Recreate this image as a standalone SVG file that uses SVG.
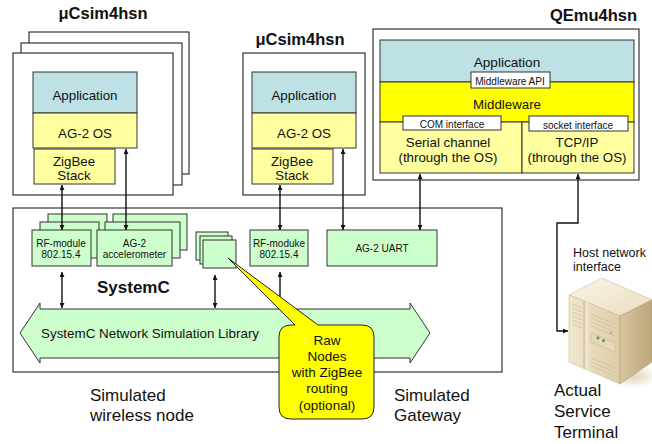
<svg xmlns="http://www.w3.org/2000/svg" width="652" height="444" viewBox="0 0 652 444">
  <style>
    text { font-family: "Liberation Sans", Arial, sans-serif; fill: #111; }
    .title { font-size: 16.5px; font-weight: bold; }
    .frame { fill: #fff; stroke: #222; stroke-width: 1.1; }
    .app { fill: #bde1e4; stroke: #333; stroke-width: 1; }
    .os { fill: #ffffa0; stroke: #333; stroke-width: 1; }
    .mw { fill: #ffff00; stroke: #333; stroke-width: 1; }
    .iface { fill: #fff; stroke: #333; stroke-width: 1; }
    .mod { fill: #ccffcc; stroke: #333; stroke-width: 1; }
    .t13 { font-size: 13.3px; text-anchor: middle; }
    .t10 { font-size: 10px; text-anchor: middle; }
    .big { font-size: 17px; }
    .conn line, .conn polyline { stroke: #111; stroke-width: 1.4; fill: none; }
  </style>
  <defs>
    <marker id="ah" viewBox="0 0 6 6" refX="6" refY="3" markerWidth="5" markerHeight="5" orient="auto-start-reverse" markerUnits="userSpaceOnUse">
      <path d="M0,0 L6,3 L0,6 z" fill="#111"/>
    </marker>
    <linearGradient id="srvTop" x1="0" y1="0" x2="1" y2="1">
      <stop offset="0" stop-color="#fbf6ea"/>
      <stop offset="1" stop-color="#e9dcc0"/>
    </linearGradient>
    <linearGradient id="srvLeft" x1="0" y1="0" x2="1" y2="0">
      <stop offset="0" stop-color="#f1e7d0"/>
      <stop offset="1" stop-color="#ddcca8"/>
    </linearGradient>
    <linearGradient id="srvRight" x1="0" y1="0" x2="1" y2="0">
      <stop offset="0" stop-color="#d8c59e"/>
      <stop offset="1" stop-color="#bca57a"/>
    </linearGradient>
    <radialGradient id="srvShadow" cx="0.5" cy="0.5" r="0.5">
      <stop offset="0" stop-color="#d9c9a6" stop-opacity="0.8"/>
      <stop offset="1" stop-color="#d9c9a6" stop-opacity="0"/>
    </radialGradient>
  </defs>

  <!-- uCsim4hsn wireless node stack (three copies) -->
  <g id="ucsim-node">
    <text class="title" x="103" y="19" text-anchor="middle">μCsim4hsn</text>
    <rect class="frame" x="29" y="32" width="160" height="142"/>
    <rect class="frame" x="21" y="43" width="161" height="142"/>
    <rect class="frame" x="13" y="53" width="160" height="142"/>
    <rect class="app" x="33" y="72" width="104" height="41"/>
    <text class="t13" x="85" y="100">Application</text>
    <rect class="os" x="33" y="113" width="104" height="35"/>
    <text class="t13" x="85" y="138">AG-2 OS</text>
    <rect class="os" x="34" y="149" width="81" height="35"/>
    <text class="t13" x="74" y="166">ZigBee</text>
    <text class="t13" x="74" y="180">Stack</text>
  </g>

  <!-- uCsim4hsn gateway -->
  <g id="ucsim-gateway">
    <text class="title" x="300" y="45" text-anchor="middle">μCsim4hsn</text>
    <rect class="frame" x="243" y="53" width="122" height="142"/>
    <rect class="app" x="252" y="72" width="104" height="41"/>
    <text class="t13" x="304" y="100">Application</text>
    <rect class="os" x="252" y="113" width="104" height="35"/>
    <text class="t13" x="304" y="138">AG-2 OS</text>
    <rect class="os" x="252" y="149" width="81" height="35"/>
    <text class="t13" x="292" y="166">ZigBee</text>
    <text class="t13" x="292" y="180">Stack</text>
  </g>

  <!-- QEmu4hsn -->
  <g id="qemu">
    <text class="title" x="637" y="21" text-anchor="end">QEmu4hsn</text>
    <rect class="frame" x="373" y="29" width="266" height="151"/>
    <rect class="app" x="380" y="40" width="254" height="42"/>
    <text class="t13" x="507" y="67" style="font-size:13.6px">Application</text>
    <rect class="mw" x="380" y="82" width="254" height="40"/>
    <text class="t13" x="507" y="109">Middleware</text>
    <rect class="iface" x="471" y="72" width="79" height="16"/>
    <text class="t10" x="510" y="85">Middleware  API</text>
    <rect class="os" x="380" y="122" width="142" height="51"/>
    <rect class="os" x="522" y="122" width="112" height="51"/>
    <rect class="iface" x="403" y="116" width="98" height="14"/>
    <text class="t10" x="452" y="127.5">COM interface</text>
    <rect class="iface" x="529" y="116" width="99" height="15"/>
    <text class="t10" x="578" y="128.5">socket interface</text>
    <text class="t13" x="448" y="146.5">Serial channel</text>
    <text class="t13" x="448" y="162">(through the OS)</text>
    <text class="t13" x="577" y="146.5">TCP/IP</text>
    <text class="t13" x="577" y="162">(through the OS)</text>
  </g>

  <!-- SystemC simulation kernel -->
  <g id="systemc">
    <rect class="frame" x="13" y="208" width="489" height="164"/>
    <text class="big" x="97" y="293" style="font-weight:bold">SystemC</text>
  </g>

  <g id="rf-module">
    <rect class="mod" x="48" y="214" width="59" height="36"/>
    <rect class="mod" x="40" y="222" width="59" height="36"/>
    <rect class="mod" x="32" y="230" width="59" height="36"/>
    <text class="t10" x="61" y="247">RF-module</text>
    <text class="t10" x="61" y="258">802.15.4</text>
  </g>

  <g id="accelerometer">
    <rect class="mod" x="113" y="214" width="74" height="36"/>
    <rect class="mod" x="105" y="222" width="75" height="36"/>
    <rect class="mod" x="97" y="230" width="75" height="36"/>
    <text class="t10" x="134.5" y="247">AG-2</text>
    <text class="t10" x="134.5" y="258">accelerometer</text>
  </g>

  <g id="raw-nodes">
    <rect class="mod" x="196" y="232" width="32" height="28"/>
    <rect class="mod" x="200" y="236" width="32" height="28"/>
    <rect class="mod" x="203" y="240" width="33" height="28"/>
  </g>

  <g id="rf-moduke">
    <rect class="mod" x="250" y="230" width="58" height="36"/>
    <text class="t10" x="279" y="247">RF-moduke</text>
    <text class="t10" x="279" y="258">802.15.4</text>
  </g>

  <g id="ag2-uart">
    <rect class="mod" x="327" y="230" width="110" height="36"/>
    <text class="t10" x="382" y="252">AG-2 UART</text>
  </g>

  <!-- network simulation library (double block arrow) -->
  <g id="network-library">
    <path class="mod" d="M20,333 L40,303 L40,309 L410,309 L410,303 L430,333 L410,363 L410,358 L40,358 L40,363 Z"/>
    <text x="41" y="338" style="font-size:13.4px">SystemC Network Simulation Library</text>
  </g>

  <!-- connectors -->
  <g class="conn" id="connectors">
    <line x1="62" y1="185" x2="62" y2="230" marker-start="url(#ah)" marker-end="url(#ah)"/>
    <line x1="126" y1="149" x2="126" y2="230" marker-start="url(#ah)" marker-end="url(#ah)"/>
    <line x1="280" y1="185" x2="280" y2="230" marker-start="url(#ah)" marker-end="url(#ah)"/>
    <line x1="343" y1="149" x2="343" y2="230" marker-start="url(#ah)" marker-end="url(#ah)"/>
    <line x1="420" y1="174" x2="420" y2="230" marker-start="url(#ah)" marker-end="url(#ah)"/>
    <line x1="62" y1="272" x2="62" y2="308" marker-start="url(#ah)" marker-end="url(#ah)"/>
    <line x1="215" y1="275" x2="215" y2="308" marker-start="url(#ah)" marker-end="url(#ah)"/>
    <line x1="280" y1="272" x2="280" y2="308" marker-start="url(#ah)" marker-end="url(#ah)"/>
    <polyline points="578,174 578,223 557,223 557,331 568,331" marker-start="url(#ah)" marker-end="url(#ah)"/>
  </g>

  <!-- callout -->
  <g id="raw-nodes-callout">
    <path d="M291,325 L295,325 L228,258 L318,325 L362,325 Q374,325 374,337 L374,407 Q374,419 362,419 L291,419 Q279,419 279,407 L279,337 Q279,325 291,325 Z" fill="#ffff00" stroke="#222" stroke-width="1"/>
    <text class="t13" x="327" y="345" style="font-size:13.5px">Raw</text>
    <text class="t13" x="327" y="361" style="font-size:13.5px">Nodes</text>
    <text class="t13" x="327" y="377" style="font-size:13.5px">with ZigBee</text>
    <text class="t13" x="327" y="393" style="font-size:13.5px">routing</text>
    <text class="t13" x="327" y="410" style="font-size:13.5px">(optional)</text>
  </g>

  <!-- captions -->
  <g id="captions">
    <text class="big" x="90" y="401">Simulated</text>
    <text class="big" x="90" y="421">wireless node</text>
    <text class="big" x="394" y="401">Simulated</text>
    <text class="big" x="394" y="421">Gateway</text>
    <text x="573" y="257" style="font-size:12.5px">Host network</text>
    <text x="573" y="271" style="font-size:12.5px">interface</text>
    <text class="big" x="554" y="396">Actual</text>
    <text class="big" x="554" y="417">Service</text>
    <text class="big" x="554" y="438">Terminal</text>
  </g>

  <!-- service terminal (server tower) -->
  <g id="server">
    <ellipse cx="634" cy="376" rx="24" ry="12" fill="url(#srvShadow)"/>
    <polygon points="569,295 602,278 652,300 620,316" fill="url(#srvTop)" stroke="#cbb98f" stroke-width="0.6"/>
    <polygon points="569,295 620,316 620,384 569,362" fill="url(#srvLeft)" stroke="#cbb98f" stroke-width="0.6"/>
    <polygon points="620,316 652,300 652,362 620,384" fill="url(#srvRight)" stroke="#b09a6e" stroke-width="0.6"/>
    <line x1="584" y1="301" x2="584" y2="369" stroke="#c9b68e" stroke-width="1"/>
    <line x1="587" y1="302" x2="587" y2="370" stroke="#f7f0e0" stroke-width="1"/>
    <g stroke="#cdbb93" stroke-width="0.7">
      <line x1="572" y1="304" x2="582" y2="308"/>
      <line x1="572" y1="308" x2="582" y2="312"/>
      <line x1="572" y1="312" x2="582" y2="316"/>
      <line x1="572" y1="316" x2="582" y2="320"/>
      <line x1="572" y1="320" x2="582" y2="324"/>
      <line x1="572" y1="324" x2="582" y2="328"/>
      <line x1="591" y1="314" x2="615" y2="324"/>
      <line x1="591" y1="318" x2="615" y2="328"/>
      <line x1="591" y1="322" x2="615" y2="332"/>
      <line x1="591" y1="326" x2="615" y2="336"/>
      <line x1="591" y1="358" x2="615" y2="368"/>
      <line x1="591" y1="362" x2="615" y2="372"/>
      <line x1="591" y1="366" x2="615" y2="376"/>
    </g>
    <polygon points="591,333 615,343 615,352 591,342" fill="#e6d8b8" stroke="#c9b68e" stroke-width="0.6"/>
    <circle cx="598" cy="338" r="1.5" fill="#4a9a5a"/>
    <circle cx="603.5" cy="340.5" r="1.5" fill="#4a9a5a"/>
    <circle cx="611" cy="333" r="0.9" fill="#9c8fc8"/>
  </g>
</svg>
